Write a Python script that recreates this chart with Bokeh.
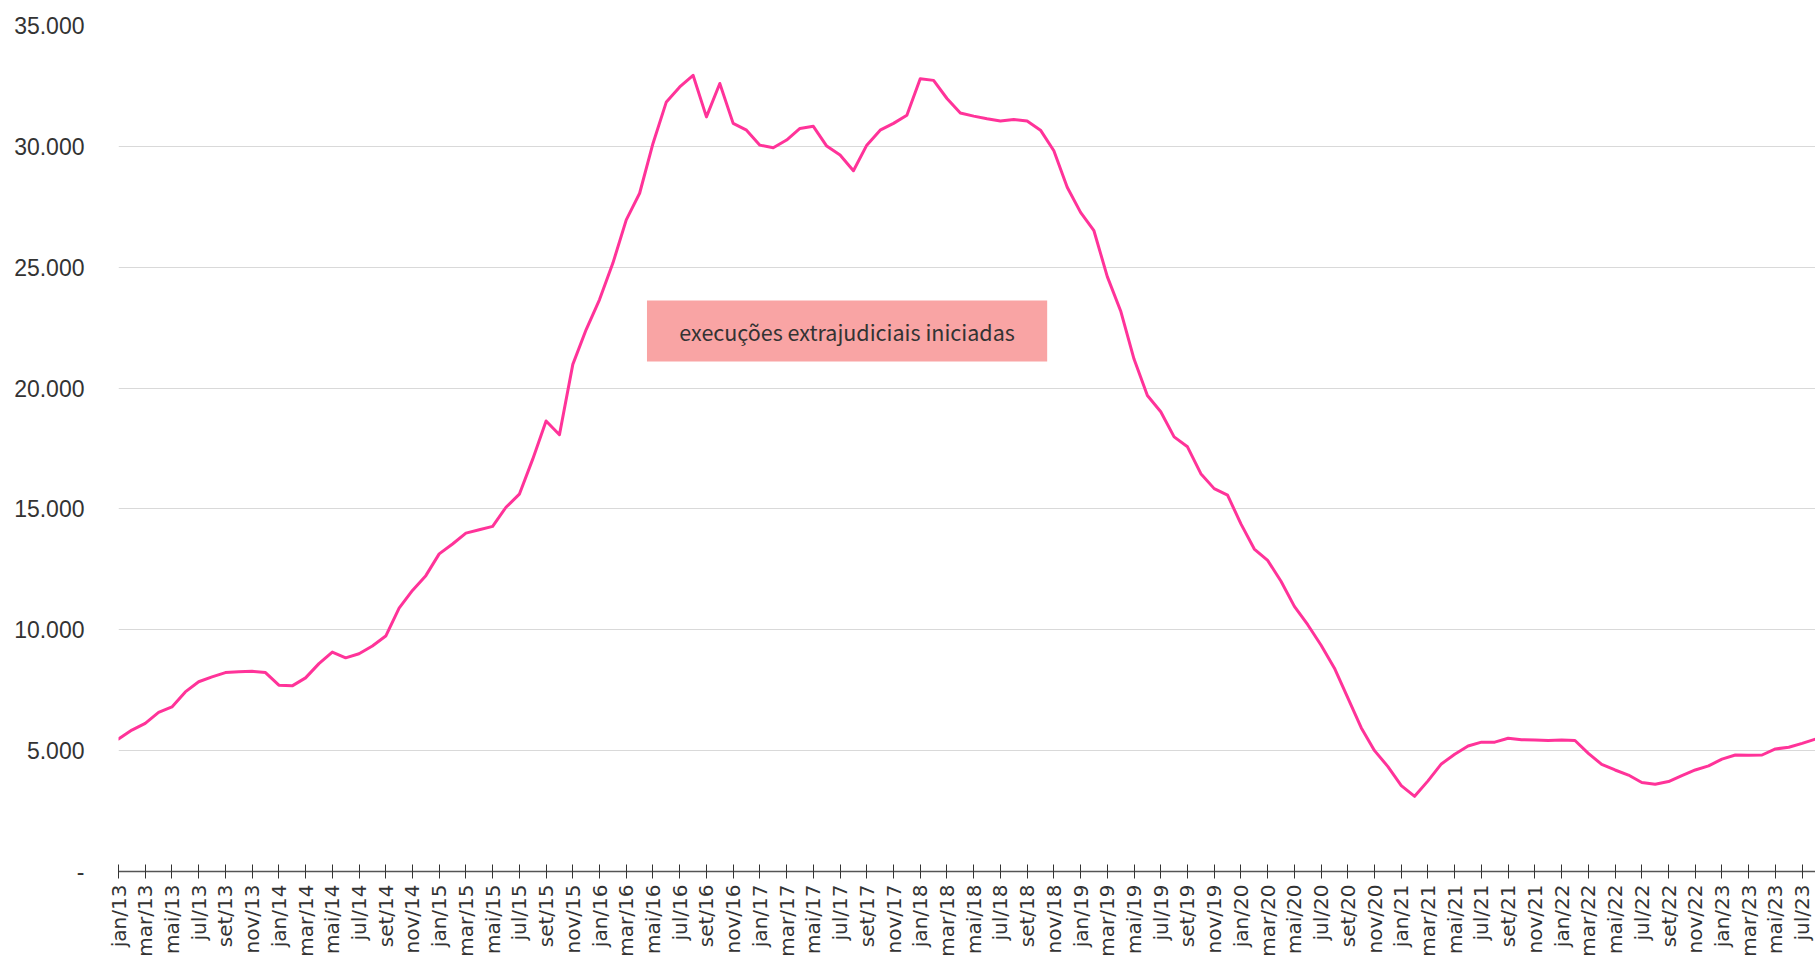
from bokeh.plotting import figure
from bokeh.models import Range1d, FixedTicker, BoxAnnotation, Label
from bokeh.embed import file_html
from bokeh.resources import INLINE
import math

# ---- data -----------------------------------------------------------------
month_names = ["jan", "fev", "mar", "abr", "mai", "jun",
               "jul", "ago", "set", "out", "nov", "dez"]
start_year = 13
n_months = 128  # jan/13 .. ago/23

execucoes = [
    5480, 5850, 6130, 6580, 6810, 7430, 7850, 8050, 8230, 8260, 8280, 8230,   # 2013
    7710, 7680, 8010, 8600, 9080, 8840, 9010, 9330, 9740, 10900, 11630, 12240,  # 2014
    13140, 13550, 14000, 14140, 14280, 15070, 15610, 17060, 18640, 18070, 20980, 22420,  # 2015
    23660, 25170, 26960, 28060, 30120, 31840, 32460, 32940, 31220, 32600, 30950, 30670,  # 2016
    30050, 29940, 30260, 30740, 30830, 30010, 29640, 28990, 30050, 30670, 30950, 31290,  # 2017
    32800, 32730, 31980, 31380, 31250, 31140, 31050, 31110, 31050, 30670, 29820, 28310,  # 2018
    27270, 26510, 24610, 23190, 21200, 19690, 19020, 17980, 17570, 16460, 15840, 15570,  # 2019
    14380, 13340, 12870, 12010, 10970, 10210, 9360, 8410, 7180, 5950, 5000, 4340,      # 2020
    3550, 3110, 3750, 4450, 4850, 5190, 5350, 5350, 5510, 5450, 5440, 5420,           # 2021
    5440, 5420, 4890, 4430, 4200, 3990, 3680, 3610, 3720, 3970, 4200, 4370,           # 2022
    4650, 4820, 4810, 4820, 5070, 5140, 5300, 5480,                                   # 2023
]
series_label = "execuções extrajudiciais iniciadas"
y_ticks = [0, 5000, 10000, 15000, 20000, 25000, 30000, 35000]
y_tick_labels = ["-", "5.000", "10.000", "15.000", "20.000", "25.000", "30.000", "35.000"]

x = list(range(n_months))
x_ticks = list(range(0, n_months, 2))
x_tick_labels = {i: f"{month_names[i % 12]}/{start_year + i // 12}" for i in x_ticks}

# ---- figure ---------------------------------------------------------------
p = figure(width=1815, height=959, output_backend="svg", toolbar_location=None,
           x_range=Range1d(0, n_months - 1), y_range=Range1d(0, 35000),
           min_border_left=118, min_border_right=0, min_border_top=25,
           min_border_bottom=0)
p.outline_line_color = None
p.background_fill_color = "white"
p.border_fill_color = "white"

p.xgrid.visible = False
p.ygrid.grid_line_color = "#d9d9d9"
p.ygrid.grid_line_width = 1
p.ygrid.ticker = FixedTicker(ticks=y_ticks)

# y axis
p.yaxis.ticker = FixedTicker(ticks=y_ticks)
p.yaxis.major_label_overrides = dict(zip(y_ticks, y_tick_labels))
p.yaxis.axis_line_color = None
p.yaxis.major_tick_line_color = None
p.yaxis.minor_tick_line_color = None
p.yaxis.major_label_standoff = 28
p.yaxis.major_label_text_font = "Liberation Sans"
p.yaxis.major_label_text_font_size = "23px"
p.yaxis.major_label_text_color = "#333333"

# x axis
p.xaxis.ticker = FixedTicker(ticks=x_ticks)
p.xaxis.major_label_overrides = x_tick_labels
p.xaxis.major_label_orientation = math.pi / 2
p.xaxis.axis_line_color = "#555555"
p.xaxis.axis_line_width = 1.5
p.xaxis.major_tick_line_color = "#333333"
p.xaxis.major_tick_in = 7
p.xaxis.major_tick_out = 7
p.xaxis.minor_tick_line_color = None
p.xaxis.major_label_standoff = 6
p.xaxis.major_label_text_font = "DejaVu Sans"
p.xaxis.major_label_text_font_size = "20px"
p.xaxis.major_label_text_color = "#333333"

# series
p.line(x, execucoes, line_color="#FF3399", line_width=3, line_join="round",
       line_cap="round")

# label box
box_left, box_right = 39.55, 69.5
box_bottom, box_top = 21100, 23620
p.add_layout(BoxAnnotation(left=box_left, right=box_right, bottom=box_bottom, top=box_top,
                           fill_color="#F9A4A4", fill_alpha=1.0, line_color=None,
                           level="overlay"))
p.add_layout(Label(x=(box_left + box_right) / 2, y=(box_bottom + box_top) / 2,
                   text=series_label, text_align="center", text_baseline="middle",
                   text_font="Noto Sans CJK JP", text_font_size="21.5px",
                   text_color="#333333", level="overlay"))

open("out.html", "w").write(file_html(p, INLINE))
